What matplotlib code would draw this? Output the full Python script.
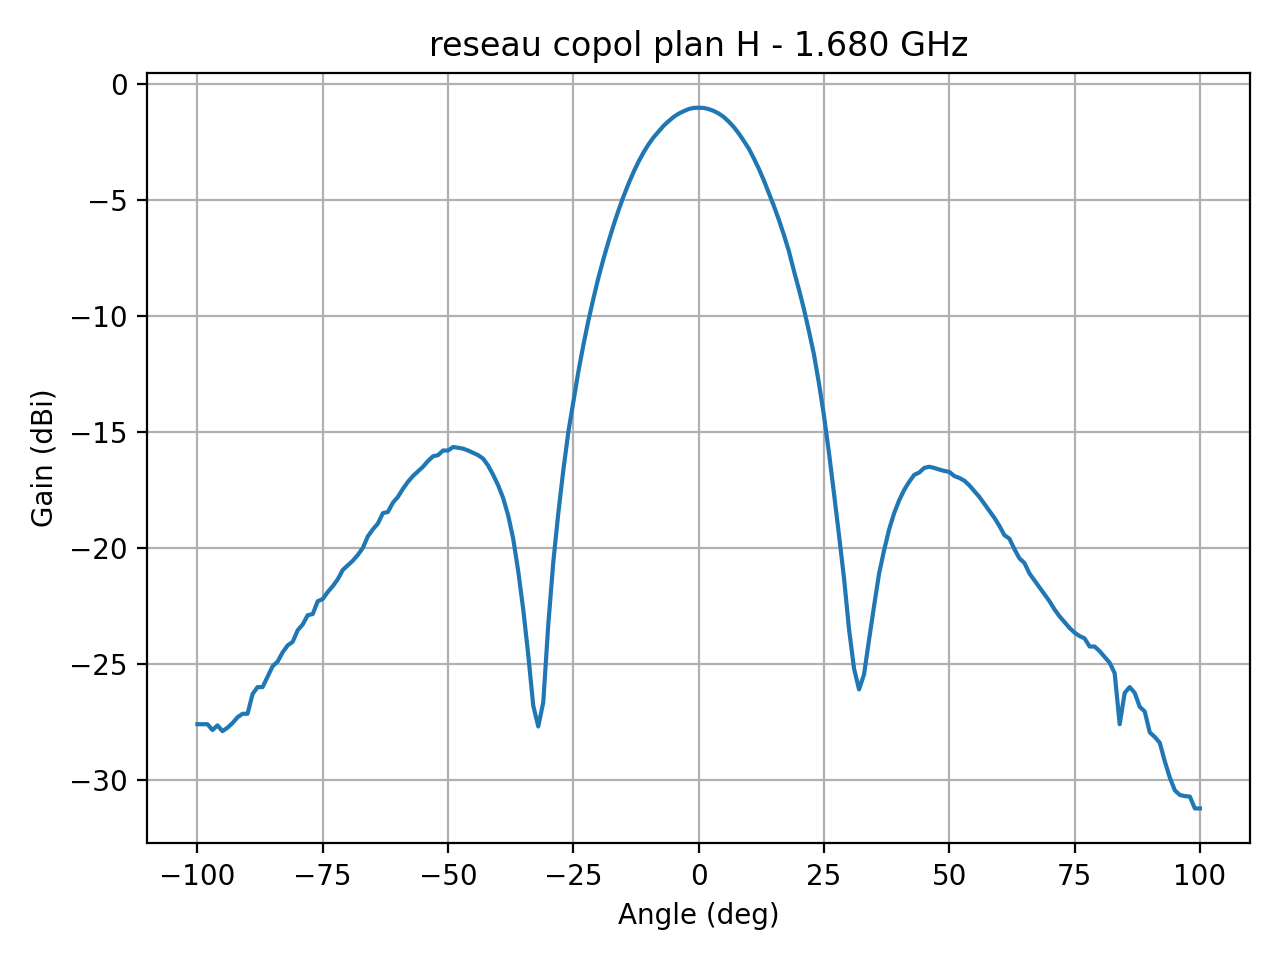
import matplotlib
matplotlib.use("Agg")
import matplotlib.pyplot as plt
import numpy as np

# Angles en degres, pas de 1 deg
angle = np.arange(-100, 101, 1)

gain_gauche = [
    -27.6, -27.6, -27.6, -27.85, -27.65, -27.9, -27.75, -27.55, -27.3, -27.15,   # -100 .. -91
    -27.15, -26.3, -26.0, -26.0, -25.55, -25.1, -24.9, -24.5, -24.2, -24.05,     # -90 .. -81
    -23.55, -23.3, -22.9, -22.85, -22.3, -22.2, -21.9, -21.65, -21.35, -20.95,   # -80 .. -71
    -20.75, -20.55, -20.3, -20.0, -19.5, -19.2, -18.95, -18.5, -18.45, -18.05,   # -70 .. -61
    -17.8, -17.45, -17.15, -16.9, -16.7, -16.5, -16.25, -16.05, -16.0, -15.8,    # -60 .. -51
    -15.8, -15.65, -15.68, -15.72, -15.8, -15.9, -16.0, -16.15, -16.45, -16.85,  # -50 .. -41
    -17.3, -17.85, -18.6, -19.6, -21.0, -22.65, -24.6, -26.8, -27.7, -26.65,     # -40 .. -31
    -23.3, -20.6, -18.5, -16.65, -15.0, -13.7, -12.4, -11.25, -10.2, -9.25,      # -30 .. -21
    -8.35, -7.55, -6.8, -6.1, -5.45, -4.85, -4.3, -3.8, -3.35, -2.95,            # -20 .. -11
    -2.6, -2.3, -2.05, -1.8, -1.6, -1.42, -1.28, -1.17, -1.08, -1.03,            # -10 .. -1
]
gain_centre = [-1.02]
gain_droite = [
    -1.03, -1.08, -1.16, -1.27, -1.42, -1.62, -1.85, -2.13, -2.45, -2.78,        # 1 .. 10
    -3.2, -3.65, -4.15, -4.7, -5.25, -5.85, -6.5, -7.2, -8.05, -8.85,            # 11 .. 20
    -9.7, -10.65, -11.65, -12.9, -14.3, -15.9, -17.65, -19.45, -21.3, -23.5,     # 21 .. 30
    -25.2, -26.1, -25.45, -23.95, -22.5, -21.1, -20.1, -19.2, -18.5, -17.95,     # 31 .. 40
    -17.5, -17.15, -16.85, -16.75, -16.55, -16.5, -16.55, -16.62, -16.68, -16.72, # 41 .. 50
    -16.9, -16.98, -17.1, -17.3, -17.55, -17.8, -18.1, -18.4, -18.7, -19.05,     # 51 .. 60
    -19.45, -19.6, -20.05, -20.45, -20.65, -21.1, -21.4, -21.7, -22.0, -22.3,    # 61 .. 70
    -22.65, -22.95, -23.2, -23.45, -23.65, -23.8, -23.9, -24.25, -24.25, -24.45, # 71 .. 80
    -24.7, -24.95, -25.4, -27.6, -26.25, -26.0, -26.25, -26.85, -27.05, -27.95,  # 81 .. 90
    -28.15, -28.4, -29.2, -29.9, -30.45, -30.65, -30.7, -30.72, -31.23, -31.23,  # 91 .. 100
]
gain = np.array(gain_gauche + gain_centre + gain_droite)

freq_ghz = 1.680

fig, ax = plt.subplots(figsize=(6.4, 4.8), dpi=200)
ax.plot(angle, gain)
ax.set_title(f"reseau copol plan H - {freq_ghz:.3f} GHz")
ax.set_xlabel("Angle (deg)")
ax.set_ylabel("Gain (dBi)")
ax.grid(True)

fig.tight_layout()
fig.savefig("out.png", dpi=200)
